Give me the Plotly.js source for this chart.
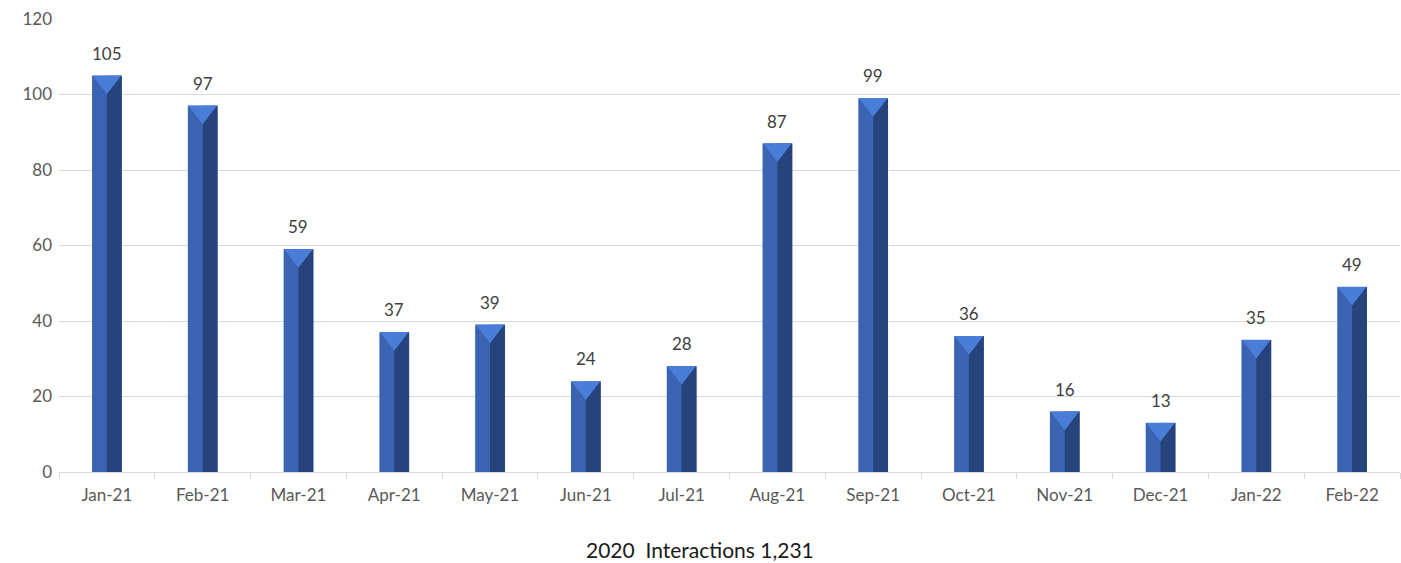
<!DOCTYPE html>
<html><head><meta charset="utf-8">
<script src="https://cdn.plot.ly/plotly-3.0.1.min.js"></script>
<style>html,body{margin:0;padding:0;background:#fff}#chart{width:1401px;height:563px}</style>
</head><body><div id="chart"></div>
<script>
const categories = ["Jan-21","Feb-21","Mar-21","Apr-21","May-21","Jun-21","Jul-21","Aug-21","Sep-21","Oct-21","Nov-21","Dec-21","Jan-22","Feb-22"];
const values = [105,97,59,37,39,24,28,87,99,36,16,13,35,49];
const yTicks = [0,20,40,60,80,100,120];
const xTitle = "2020\u00A0 Interactions 1,231";

const FONT = "Lato, 'Liberation Sans', sans-serif";
const W = 0.31;
const traces = [
  {type:"bar", x:categories, y:values, width:W, marker:{color:"#3A63B2", line:{width:0}}, hoverinfo:"skip"},
  {type:"bar", x:categories, y:values, width:W/2, offset:0, marker:{color:"#26437B", line:{width:0}}, hoverinfo:"skip"},
  {type:"scatter", mode:"markers", x:categories, y:values.map(v=>v-1.6), marker:{symbol:"triangle-down", size:25, color:"#4A7DD8", line:{width:0}}, hoverinfo:"skip", cliponaxis:false}
];
const annotations = categories.map((c,i)=>({x:c, y:values[i], text:String(values[i]), showarrow:false, yanchor:"bottom", yshift:10, font:{family:FONT, size:17, color:"#404040"}}));
annotations.push({xref:"paper", yref:"paper", x:0.478, y:-0.17, xanchor:"center", yanchor:"middle", showarrow:false, text:xTitle, font:{family:FONT, size:21, color:"#1a1a1a"}});
const layout = {
  width:1401, height:563,
  margin:{l:59, r:1, t:19, b:91},
  paper_bgcolor:"#fff", plot_bgcolor:"#fff",
  barmode:"overlay", showlegend:false,
  font:{family:FONT, size:17, color:"#595959"},
  xaxis:{type:"category", range:[-0.5,13.5], showgrid:false, showline:true, linecolor:"#d9d9d9", linewidth:1,
    ticks:"outside", ticklen:6, tickcolor:"#d9d9d9", tickson:"boundaries",
    tickfont:{family:FONT, size:17, color:"#595959"}, ticklabelstandoff:8},
  yaxis:{range:[0,120], tickvals:yTicks, showgrid:true, gridcolor:"#d9d9d9", gridwidth:1, zeroline:false,
    showline:false, ticks:"", tickfont:{family:FONT, size:17, color:"#595959"}, ticklabelstandoff:6},
  annotations:annotations
};
Plotly.newPlot("chart", traces, layout, {staticPlot:true, displayModeBar:false});
</script></body></html>
